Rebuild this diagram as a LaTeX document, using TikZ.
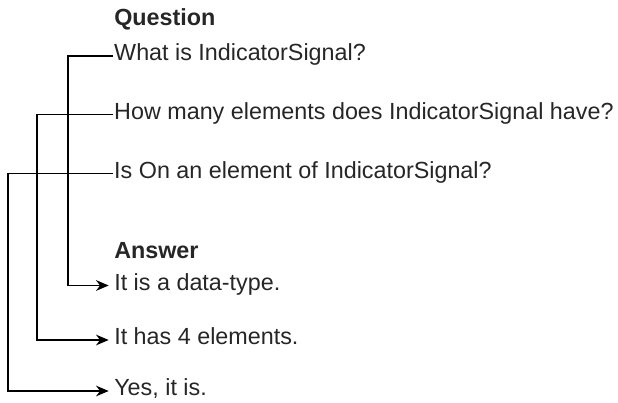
\documentclass[tikz,border=0pt]{standalone}
\usepackage{fontspec}
\setmainfont{Liberation Sans}
\usepackage{xcolor}
\usetikzlibrary{arrows.meta}
\definecolor{INK}{HTML}{262626}

\begin{document}
\begin{tikzpicture}[
    x=0.75pt, y=-0.75pt,
    font=\fontsize{17.5}{21}\selectfont,
    head/.style={font=\fontsize{17.5}{21}\selectfont\bfseries, text=INK, anchor=base west, inner sep=0pt},
    ques/.style={anchor=west, text=INK, inner xsep=0.5pt, inner ysep=0pt, text height=0.716em, text depth=0pt},
    ans/.style={ques, inner xsep=4pt},
    link/.style={line width=1pt, draw=black},
    tip/.style={link, -{Stealth[length=9.5pt, width=8pt, inset=3pt]}},
  ]

  \useasboundingbox (0,0) rectangle (618,403);

  % --- Questions ---
  \node[head] (qhead) at (114,26) {Question};
  \node[ques] (q1) at (113.3,56) {What is IndicatorSignal?};
  \node[ques] (q2) at (113.3,114.5) {How many elements does IndicatorSignal have?};
  \node[ques] (q3) at (113.3,173.5) {Is On an element of IndicatorSignal?};

  % --- Answers ---
  \node[head] (ahead) at (114,258) {Answer};
  \node[ans] (a1) at (108.7,285.5) {It is a data-type.};
  \node[ans] (a2) at (108.7,340) {It has 4 elements.};
  \node[ans] (a3) at (108.7,391) {Yes, it is.};

  % question -> answer
  \draw[tip] (q1.west) -- ++(-45.3,0) |- (a1.west);
  \draw[tip] (q2.west) -- ++(-76.3,0) |- (a2.west);
  \draw[tip] (q3.west) -- ++(-105.3,0) |- (a3.west);

\end{tikzpicture}
\end{document}
